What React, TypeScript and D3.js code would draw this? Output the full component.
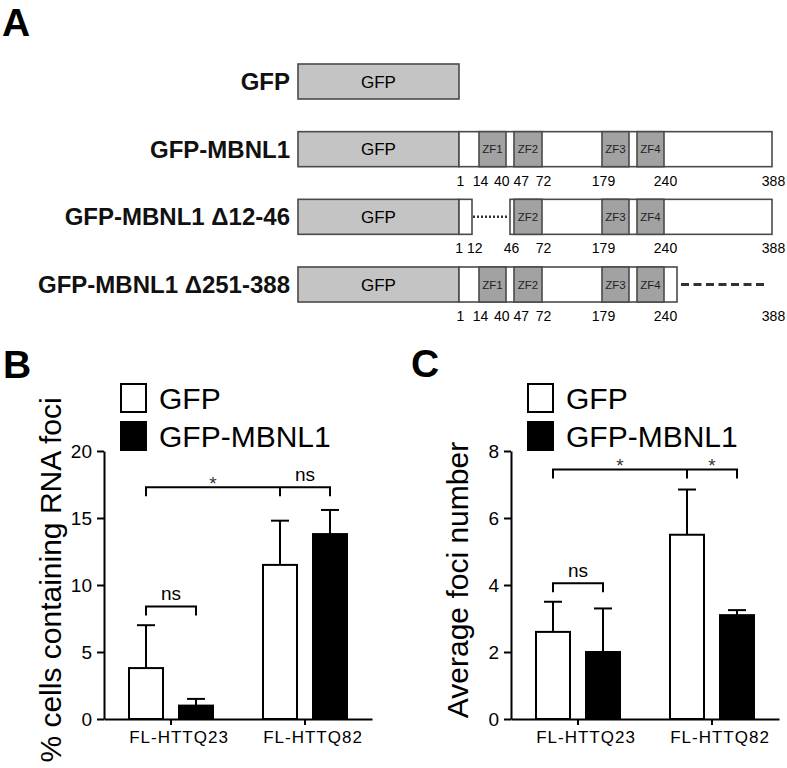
import React, { useEffect, useRef } from 'react'
import * as d3 from 'd3'

const FONT = '"Liberation Sans", Arial, Helvetica, sans-serif'
const W = 787
const H = 768

// ---- panel A: constructs ----
const constructNames = ['GFP', 'GFP-MBNL1', 'GFP-MBNL1 Δ12-46', 'GFP-MBNL1 Δ251-388']
const constructPieces = [[], [[1, 388]], [[1, 12], [46, 388]], [[1, 250]]]
const constructGaps = [[], [], [[12, 46]], [[250, 388]]]
const gapKinds = ['', '', 'dotted', 'dashed']
const zfNames = ['ZF1', 'ZF2', 'ZF3', 'ZF4']
const zfStart = [14, 47, 179, 219]
const zfEnd = [40, 72, 213, 240]
const residueLabels = [
  [],
  [1, 14, 40, 47, 72, 179, 240, 388],
  [1, 12, 46, 72, 179, 240, 388],
  [1, 14, 40, 47, 72, 179, 240, 388],
]
// schematic (non-proportional) residue axis
const residueKnots = [1, 12, 14, 40, 46, 47, 72, 179, 213, 219, 240, 250, 388]
const schemePx = [459, 472, 479, 506, 510, 514, 542, 602, 629, 637, 664, 677, 772]

// ---- panels B, C ----
const groups = ['FL-HTTQ23', 'FL-HTTQ82']
const series = ['GFP', 'GFP-MBNL1']
const fociPct = [[3.8, 1.0], [11.5, 13.8]]
const fociPctErr = [[3.2, 0.5], [3.3, 1.8]]
const fociNum = [[2.6, 2.0], [5.5, 3.1]]
const fociNumErr = [[0.9, 1.3], [1.35, 0.15]]
const pctTicks = [0, 5, 10, 15, 20]
const numTicks = [0, 2, 4, 6, 8]
const pctBrackets = [
  { pts: [[0, 0], [0, 1]], level: 8.4, labels: ['ns'] },
  { pts: [[0, 0], [1, 0], [1, 1]], level: 17.3, labels: ['*', 'ns'] },
]
const numBrackets = [
  { pts: [[0, 0], [0, 1]], level: 4.05, labels: ['ns'] },
  { pts: [[0, 0], [1, 0], [1, 1]], level: 7.45, labels: ['*', '*'] },
]

function dodge(xs: number[], ws: number[], gap = 4) {
  const p = xs.slice()
  for (let it = 0; it < 60; it++) {
    for (let i = 1; i < p.length; i++) {
      const need = (ws[i - 1] + ws[i]) / 2 + gap
      const d = p[i] - p[i - 1]
      if (d < need) {
        const s = (need - d) / 2
        p[i - 1] -= s
        p[i] += s
      }
    }
  }
  return p
}

function Scheme() {
  const res = d3.scaleLinear().domain(residueKnots).range(schemePx)
  const rowTop = d3.scalePoint().domain(constructNames).range([64, 267])
  const boxH = 35
  const gfpLeft = 298
  const stroke = '#4a4a4a'

  return (
    <g fontFamily={FONT}>
      {constructNames.map((name, r) => {
        const top = rowTop(name) as number
        const mid = top + boxH / 2
        const pieces = constructPieces[r]
        const labs = residueLabels[r]
        const lx = dodge(labs.map((v) => res(v)), labs.map((v) => String(v).length * 7.8))
        return (
          <g key={name}>
            <text x={290} y={mid + 8.5} textAnchor="end" fontSize={24} fontWeight="bold" fill="#111">
              {name}
            </text>
            <rect x={gfpLeft} y={top} width={res(1) - gfpLeft} height={boxH}
              fill="#c4c4c4" stroke={stroke} strokeWidth={1.6} />
            <text x={(gfpLeft + res(1)) / 2} y={mid + 6} textAnchor="middle" fontSize={17}>GFP</text>
            {pieces.map(([a, b], i) => (
              <rect key={'p' + i} x={res(a)} y={top} width={res(b) - res(a)} height={boxH}
                fill="#fff" stroke={stroke} strokeWidth={1.6} />
            ))}
            {zfNames.map((zf, i) => {
              const inside = pieces.some(([a, b]) => zfStart[i] >= a && zfEnd[i] <= b)
              if (!inside) return null
              const x0 = res(zfStart[i])
              const x1 = res(zfEnd[i])
              return (
                <g key={zf}>
                  <rect x={x0} y={top} width={x1 - x0} height={boxH}
                    fill="#a2a2a2" stroke={stroke} strokeWidth={1.6} />
                  <text x={(x0 + x1) / 2} y={mid + 4} textAnchor="middle" fontSize={11.5} fill="#222">{zf}</text>
                </g>
              )
            })}
            {constructGaps[r].map(([a, b], i) => (
              <line key={'g' + i}
                x1={res(a) + (gapKinds[r] === 'dotted' ? 1 : 4)} x2={res(b) - (gapKinds[r] === 'dotted' ? 2 : 5)}
                y1={mid} y2={mid} stroke="#333"
                strokeWidth={gapKinds[r] === 'dotted' ? 2.5 : 3}
                strokeDasharray={gapKinds[r] === 'dotted' ? '2,2' : '8,4.5'} />
            ))}
            {labs.map((v, i) => (
              <text key={'l' + i} x={lx[i] + 1.5} y={top + boxH + 19} textAnchor="middle" fontSize={14}>{v}</text>
            ))}
          </g>
        )
      })}
    </g>
  )
}

type Bracket = { pts: number[][]; level: number; labels: string[] }

function BarPanel(props: {
  axisX: number
  values: number[][]
  errs: number[][]
  yMax: number
  yTicks: number[]
  brackets: Bracket[]
  title: string
}) {
  const { axisX, values, errs, yMax, yTicks, brackets, title } = props
  const yRef = useRef<SVGGElement>(null)
  const xRef = useRef<SVGGElement>(null)
  const y = d3.scaleLinear().domain([0, yMax]).range([719, 451])
  const x = d3.scaleBand().domain(groups).range([axisX, axisX + 268])
  const inner = d3.scaleBand().domain(series).range([-42, 42]).paddingInner(0.32)
  const cx = (g: number, s: number) =>
    (x(groups[g]) as number) + x.bandwidth() / 2 + (inner(series[s]) as number) + inner.bandwidth() / 2

  useEffect(() => {
    const gy = d3.select(yRef.current as SVGGElement)
    gy.call(d3.axisLeft(y).tickValues(yTicks).tickSize(7).tickSizeOuter(0).tickPadding(5) as any)
    gy.attr('font-size', 19).attr('font-family', FONT)
    gy.selectAll('line,path').attr('stroke', '#000').attr('stroke-width', 2)
    gy.selectAll('text').attr('fill', '#000')

    const gx = d3.select(xRef.current as SVGGElement)
    gx.call(d3.axisBottom(x).tickSize(6).tickSizeOuter(0).tickPadding(6) as any)
    gx.attr('font-size', 17).attr('font-family', FONT)
    gx.selectAll('line,path').attr('stroke', '#000').attr('stroke-width', 2)
    gx.selectAll('text').attr('fill', '#000').attr('dx', 8).attr('letter-spacing', 1)
  })

  return (
    <g fontFamily={FONT}>
      {groups.map((g, gi) =>
        series.map((s, si) => {
          const v = values[gi][si]
          const c = cx(gi, si)
          const top = y(v)
          const et = y(v + errs[gi][si])
          return (
            <g key={g + s}>
              <line x1={c} x2={c} y1={top} y2={et} stroke="#000" strokeWidth={2} />
              <line x1={c - 9} x2={c + 9} y1={et} y2={et} stroke="#000" strokeWidth={2} />
              <rect x={c - inner.bandwidth() / 2} y={top} width={inner.bandwidth()} height={y(0) - top}
                fill={si === 0 ? '#fff' : '#000'} stroke="#000" strokeWidth={2} />
            </g>
          )
        })
      )}
      <g ref={yRef} transform={`translate(${axisX},0)`} />
      <g ref={xRef} transform={`translate(0,${y(0)})`} />
      {brackets.map((b, bi) => {
        const xs = b.pts.map(([g, s]) => cx(g, s))
        const ly = y(b.level)
        const d =
          `M${xs[0]},${ly + 9}V${ly}H${xs[xs.length - 1]}V${ly + 9}` +
          xs.slice(1, -1).map((m) => `M${m},${ly}V${ly + 9}`).join('')
        return (
          <g key={bi}>
            <path d={d} fill="none" stroke="#000" strokeWidth={2} />
            {b.labels.map((t, i) => (
              <text key={i} x={(xs[i] + xs[i + 1]) / 2} y={t === '*' ? ly + 2.5 : ly - 6}
                textAnchor="middle" fontSize={19} fill={t === '*' ? '#333' : '#000'}>{t}</text>
            ))}
          </g>
        )
      })}
      {series.map((s, i) => (
        <g key={s}>
          <rect x={axisX + 17} y={384 + i * 38} width={25} height={28}
            fill={i === 0 ? '#fff' : '#000'} stroke="#000" strokeWidth={2} />
          <text x={axisX + 55} y={384 + i * 38 + 25} fontSize={30}>{s}</text>
        </g>
      ))}
      <text transform={`translate(${axisX - 43},580) rotate(-90)`} textAnchor="middle" fontSize={30}>{title}</text>
    </g>
  )
}

export default function App() {
  return (
    <svg width={W} height={H} style={{ position: 'absolute', left: 0, top: 0, background: '#fff' }}>
      <rect width={W} height={H} fill="#fff" />
      <g fontFamily={FONT} fontWeight="bold" fontSize={39}>
        <text x={2} y={36}>A</text>
        <text x={3} y={378}>B</text>
        <text x={411} y={377}>C</text>
      </g>
      <Scheme />
      <BarPanel axisX={104} values={fociPct} errs={fociPctErr} yMax={20} yTicks={pctTicks}
        brackets={pctBrackets} title="% cells containing RNA foci" />
      <BarPanel axisX={511} values={fociNum} errs={fociNumErr} yMax={8} yTicks={numTicks}
        brackets={numBrackets} title="Average foci number" />
    </svg>
  )
}
